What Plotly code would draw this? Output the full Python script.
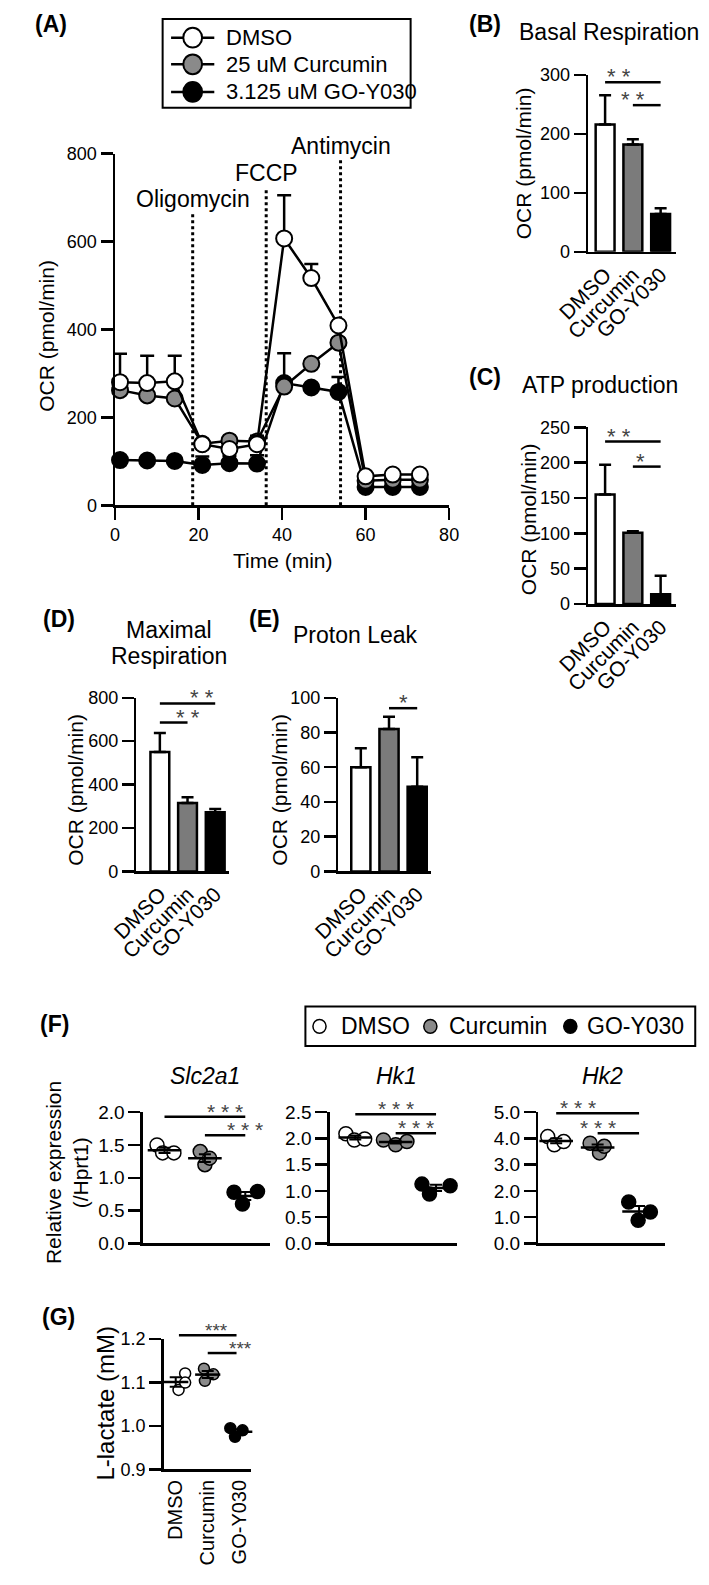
import numpy as np
import plotly.graph_objects as go

# ---------------- data ----------------
time_min = [1.2, 7.7, 14.3, 20.9, 27.4, 34.0, 40.5, 47.0, 53.5, 60.0, 66.5, 73.0]
ocr_dmso = [280, 278, 282, 139, 128, 139, 607, 517, 409, 66, 70, 70]
ocr_dmso_sd = [65, 62, 58, 8, 8, 19, 98, 32, 8, 5, 5, 5]
ocr_curc = [262, 250, 243, 140, 147, 145, 270, 322, 370, 56, 58, 58]
ocr_curc_sd = [8, 8, 8, 6, 6, 6, 10, 10, 10, 3, 3, 3]
ocr_go = [103, 102, 101, 92, 96, 95, 278, 268, 258, 42, 42, 42]
ocr_go_sd = [5, 5, 5, 19, 17, 19, 68, 8, 34, 3, 3, 3]
injection_names = ["Oligomycin", "FCCP", "Antimycin"]
injection_time = [18.6, 36.2, 54.0]
injection_line_top = [667, 723, 789]
legend_a_labels = ["DMSO", "25 uM Curcumin", "3.125 uM GO-Y030"]

groups = ["DMSO", "Curcumin", "GO-Y030"]
basal = [216, 182, 64]
basal_sd = [50, 9, 10]
atp = [155, 101, 14]
atp_sd = [42, 2, 26]
maximal = [550, 315, 273]
maximal_sd = [88, 27, 15]
leak = [60, 82, 48.7]
leak_sd = [11, 7, 17]
# (from group, to group, height, label, label position)
sig_basal = [(0, 2, 288, "* *", 1.0), (1, 2, 249, "* *", 1.5)]
sig_atp = [(0, 2, 230, "* *", 1.0), (1, 2, 194.5, "*", 1.5)]
sig_maximal = [(0, 2, 774, "* *", 1.0), (0, 1, 686, "* *", 0.5)]
sig_leak = [(1, 2, 94, "*", 1.5)]

slc_dmso = [1.50, 1.38, 1.38]
slc_curc = [1.40, 1.20, 1.30]
slc_go = [0.78, 0.60, 0.79]
hk1_dmso = [2.09, 1.97, 1.99]
hk1_curc = [1.97, 1.88, 1.94]
hk1_go = [1.13, 0.94, 1.10]
hk2_dmso = [4.07, 3.76, 3.88]
hk2_curc = [3.82, 3.45, 3.70]
hk2_go = [1.58, 0.88, 1.20]
lac_dmso = [1.083, 1.121, 1.100]
lac_curc = [1.132, 1.119, 1.104]
lac_go = [0.995, 0.975, 0.990]
sig_slc = [(0, 2, 1.93, "* * *", 1.0), (1, 2, 1.65, "* * *", 1.5)]
sig_hk1 = [(0, 2, 2.46, "* * *", 1.0), (1, 2, 2.10, "* * *", 1.5)]
sig_hk2 = [(0, 2, 4.96, "* * *", 1.0), (1, 2, 4.20, "* * *", 1.5)]
sig_lac = [(0.1, 1.9, 1.209, "***", 0.85), (1, 1.9, 1.168, "***", 1.6)]

# ---------------- style / layout constants ----------------
W, H = 709, 1585
FONT = "Liberation Sans, Arial, sans-serif"
LW = 2.5
GREY = "#8a8a8a"
BAR_GREY = "#7b7b7b"
group_colors = ["white", GREY, "black"]
bar_colors = ["white", BAR_GREY, "black"]
# horizontal jitter of replicate dots (px)
slc_jit = [[-8, -2, 10], [-5, 0, 5], [-12, -3, 13]]
hk1_jit = [[-10, -1, 10], [-13, 0, 12], [-15, -7, 15]]
hk2_jit = [[-9, -2, 8], [-8, 2, 7], [-11, -1, 12]]
lac_jit = [[3, 10, 10], [-4, 6, -3], [-10, -5, 3]]


def dom_x(l, r):
    return [l / W, r / W]


def dom_y(t, b):
    return [1 - b / H, 1 - t / H]


fig = go.Figure()
layout = dict(width=W, height=H, margin=dict(l=0, r=0, t=0, b=0),
              paper_bgcolor="white", plot_bgcolor="rgba(0,0,0,0)",
              showlegend=False, font=dict(family=FONT, color="black"))
shapes = []
annotations = []
axis_geo = {}


def tf(size):
    return dict(size=size, family=FONT, color="black")


def add_axes(n, xdom, ydom, xrange, yrange, xkw, ykw):
    xs = "xaxis" if n == 1 else f"xaxis{n}"
    ys = "yaxis" if n == 1 else f"yaxis{n}"
    xa = "x" if n == 1 else f"x{n}"
    ya = "y" if n == 1 else f"y{n}"
    base = dict(showline=True, linecolor="black", linewidth=LW, showgrid=False,
                zeroline=False, fixedrange=True, tickcolor="black", tickwidth=LW,
                ticklen=12, tickfont=tf(18))
    xd = dict(base); xd.update(domain=dom_x(*xdom), range=xrange, anchor=ya); xd.update(xkw)
    yd = dict(base); yd.update(domain=dom_y(*ydom), range=yrange, anchor=xa); yd.update(ykw)
    layout[xs] = xd
    layout[ys] = yd
    axis_geo[xa] = (xd["domain"], xrange)
    axis_geo[ya] = (yd["domain"], yrange)
    return xa, ya


def to_paper(ax, v):
    (d0, d1), (r0, r1) = axis_geo[ax]
    return d0 + (v - r0) / (r1 - r0) * (d1 - d0)


def text(x, y, s, size, xanchor="left", angle=0, color="black"):
    annotations.append(dict(x=x / W, y=1 - y / H, xref="paper", yref="paper", text=s,
                            showarrow=False, xanchor=xanchor, yanchor="middle",
                            textangle=angle, font=dict(size=size, family=FONT, color=color)))


def sig_marks(xa, ya, sig, size=22, shift=-9):
    for (i, j, h, stars, lx) in sig:
        x0, x1, yy = to_paper(xa, i), to_paper(xa, j), to_paper(ya, h)
        shapes.append(dict(type="line", xref="paper", yref="paper", x0=x0, x1=x1, y0=yy, y1=yy,
                           line=dict(color="black", width=LW)))
        annotations.append(dict(x=to_paper(xa, lx), y=yy, xref="paper", yref="paper", text=stars,
                                showarrow=False, yanchor="bottom", yshift=shift,
                                font=dict(size=size, family=FONT, color="#444")))


# ---------------- panel A ----------------
xa, ya = add_axes(1, (87.3, 443), (145.5, 502), [0, 80], [0, 800],
                  dict(tickvals=[0, 20, 40, 60, 80], ticks="outside"),
                  dict(tickvals=[0, 200, 400, 600, 800], ticks="outside"))
for t, top in zip(injection_time, injection_line_top):
    shapes.append(dict(type="line", xref=xa, yref=ya, x0=t, x1=t, y0=0, y1=top,
                       line=dict(color="black", width=3, dash="dot"), layer="below"))
for vals, sd, col in [(ocr_go, ocr_go_sd, "black"), (ocr_curc, ocr_curc_sd, GREY),
                      (ocr_dmso, ocr_dmso_sd, "white")]:
    fig.add_trace(go.Scatter(
        x=time_min, y=vals, mode="lines+markers", xaxis=xa, yaxis=ya, cliponaxis=False,
        line=dict(color="black", width=LW),
        marker=dict(size=16, color=col, line=dict(color="black", width=2)),
        error_y=dict(type="data", array=sd, arrayminus=[0] * len(sd), symmetric=False,
                     color="black", thickness=LW, width=7),
        hoverinfo="skip"))
label_y = [192, 165, 138]
for name, t, yy in zip(injection_names, injection_time, label_y):
    annotations.append(dict(x=t, xref=xa, y=1 - yy / H, yref="paper", text=name,
                            showarrow=False, xanchor="center", yanchor="middle",
                            font=dict(size=23, family=FONT, color="black")))
text(266, 558, "Time (min)", 21, xanchor="center")
text(15, 330, "OCR (pmol/min)", 21, xanchor="center", angle=-90)
text(0, 14, "<b>(A)</b>", 23)

# legend A
shapes.append(dict(type="rect", xref="paper", yref="paper", x0=138 / W, x1=402 / W,
                   y0=1 - 99 / H, y1=1 - 9 / H, line=dict(color="black", width=2),
                   fillcolor="white", layer="above"))
for lab, col, yy in zip(legend_a_labels, group_colors, [28, 55, 83]):
    shapes.append(dict(type="line", xref="paper", yref="paper", x0=147 / W, x1=193 / W,
                       y0=1 - yy / H, y1=1 - yy / H, line=dict(color="black", width=LW)))
    r = 10
    shapes.append(dict(type="circle", xref="paper", yref="paper",
                       x0=(170 - r) / W, x1=(170 + r) / W,
                       y0=1 - (yy + r) / H, y1=1 - (yy - r) / H,
                       fillcolor=col, line=dict(color="black", width=2)))
    text(203, yy, lab, 22)


# ---------------- bar panels B-E ----------------
def bar_panel(n, xdom, ydom, xrange, ymax, ytickvals, means, sds, sig):
    xa, ya = add_axes(n, xdom, ydom, xrange, [0, ymax],
                      dict(tickvals=[0, 1, 2], ticktext=groups, tickangle=-45, ticks="",
                           tickfont=tf(21)),
                      dict(tickvals=ytickvals, ticks="outside"))
    fig.add_trace(go.Bar(x=[0, 1, 2], y=means, width=0.68, xaxis=xa, yaxis=ya,
                         marker=dict(color=bar_colors, line=dict(color="black", width=LW)),
                         error_y=dict(type="data", array=sds, arrayminus=[0, 0, 0],
                                      symmetric=False, color="black", thickness=LW, width=6),
                         hoverinfo="skip"))
    sig_marks(xa, ya, sig)


bar_panel(2, (591, 685), (66, 245), [-0.61, 2.57], 300, [0, 100, 200, 300], basal, basal_sd, sig_basal)
bar_panel(3, (591, 685), (423, 602), [-0.61, 2.57], 250, [0, 50, 100, 150, 200, 250], atp, atp_sd, sig_atp)
bar_panel(4, (110, 209), (697, 873), [-0.85, 2.51], 800, [0, 200, 400, 600, 800], maximal, maximal_sd, sig_maximal)
bar_panel(5, (325, 424), (697, 873), [-0.8, 2.5], 100, [0, 20, 40, 60, 80, 100], leak, leak_sd, sig_leak)

text(462, 14, "<b>(B)</b>", 23)
text(515, 22, "Basal Respiration", 23)
text(523, 155, "OCR (pmol/min)", 21, xanchor="center", angle=-90)
text(462, 372, "<b>(C)</b>", 23)
text(518, 380, "ATP production", 23)
text(527, 516, "OCR (pmol/min)", 21, xanchor="center", angle=-90)
text(8, 617, "<b>(D)</b>", 23)
text(145, 628, "Maximal", 23, xanchor="center")
text(145, 655, "Respiration", 23, xanchor="center")
text(45, 790, "OCR (pmol/min)", 21, xanchor="center", angle=-90)
text(228, 617, "<b>(E)</b>", 23)
text(275, 633, "Proton Leak", 23)
text(262, 790, "OCR (pmol/min)", 21, xanchor="center", angle=-90)


# ---------------- dot panels F, G ----------------
def dot_panel(n, xdom, ydom, xrange, yrange, ytickvals, series, jitter, unit, sig,
              msize, mean_size, show_x_labels=False, star_size=21):
    xkw = dict(tickvals=[0, 1, 2], ticks="", showticklabels=show_x_labels)
    if show_x_labels:
        xkw.update(ticktext=groups, tickangle=-90, tickfont=tf(20))
    xa, ya = add_axes(n, xdom, ydom, xrange, yrange, xkw,
                      dict(tickvals=ytickvals, ticks="outside", tickformat=".1f",
                           tickfont=tf(19 if not show_x_labels else 18)))
    for g, (vals, jit, col) in enumerate(zip(series, jitter, group_colors)):
        fig.add_trace(go.Scatter(x=[g + j / unit for j in jit], y=vals, mode="markers",
                                 xaxis=xa, yaxis=ya, cliponaxis=False,
                                 marker=dict(size=msize, color=col,
                                             line=dict(color="black", width=1.5)),
                                 hoverinfo="skip"))
    means = [float(np.mean(v)) for v in series]
    sems = [float(np.std(v, ddof=1) / np.sqrt(len(v))) for v in series]
    fig.add_trace(go.Scatter(x=[0, 1, 2], y=means, mode="markers", xaxis=xa, yaxis=ya,
                             cliponaxis=False,
                             marker=dict(symbol="line-ew", size=mean_size, color="black",
                                         line=dict(color="black", width=2.5)),
                             error_y=dict(type="data", array=sems, color="black",
                                          thickness=2, width=6),
                             hoverinfo="skip"))
    sig_marks(xa, ya, sig, size=star_size, shift=-8)


dot_panel(6, (117, 252), (1117, 1250), [-0.535, 2.605], [0, 2.0], [0, 0.5, 1.0, 1.5, 2.0],
          [slc_dmso, slc_curc, slc_go], slc_jit, 43, sig_slc, 14, 24)
dot_panel(7, (316, 451), (1117, 1250), [-0.63, 2.51], [0, 2.5], [0, 0.5, 1.0, 1.5, 2.0, 2.5],
          [hk1_dmso, hk1_curc, hk1_go], hk1_jit, 43, sig_hk1, 14, 24)
dot_panel(8, (538, 673), (1117, 1250), [-0.43, 2.63], [0, 5.0], [0, 1, 2, 3, 4, 5],
          [hk2_dmso, hk2_curc, hk2_go], hk2_jit, 44, sig_hk2, 14, 24)
dot_panel(9, (139, 232), (1347, 1479), [-0.38, 2.35], [0.9, 1.2], [0.9, 1.0, 1.1, 1.2],
          [lac_dmso, lac_curc, lac_go], lac_jit, 34, sig_lac, 11, 18, show_x_labels=True,
          star_size=19)

text(5, 1028, "<b>(F)</b>", 23)
text(183, 1080, "<i>Slc2a1</i>", 23, xanchor="center")
text(387, 1080, "<i>Hk1</i>", 23, xanchor="center")
text(606, 1080, "<i>Hk2</i>", 23, xanchor="center")
text(22, 1178, "Relative expression", 21, xanchor="center", angle=-90)
text(50, 1178, "(/Hprt1)", 21, xanchor="center", angle=-90)
text(7, 1325, "<b>(G)</b>", 23)
text(77, 1412, "L-lactate (mM)", 24, xanchor="center", angle=-90)

# legend F
shapes.append(dict(type="rect", xref="paper", yref="paper", x0=290 / W, x1=705 / W,
                   y0=1 - 1050 / H, y1=1 - 1010 / H, line=dict(color="black", width=2),
                   fillcolor="white", layer="above"))
for lab, col, cx, tx in zip(groups, group_colors, [305, 423, 572], [326, 441, 588]):
    r = 7
    shapes.append(dict(type="circle", xref="paper", yref="paper",
                       x0=(cx - r) / W, x1=(cx + r) / W,
                       y0=1 - (1030 + r) / H, y1=1 - (1030 - r) / H,
                       fillcolor=col, line=dict(color="black", width=1.5)))
    text(tx, 1030, lab, 23)

layout["shapes"] = shapes
layout["annotations"] = annotations
fig.update_layout(**layout)
fig.write_html("out.html",
               config={"displayModeBar": False, "staticPlot": True},
               post_script="document.body.style.margin='0';document.body.style.overflow='hidden';")
